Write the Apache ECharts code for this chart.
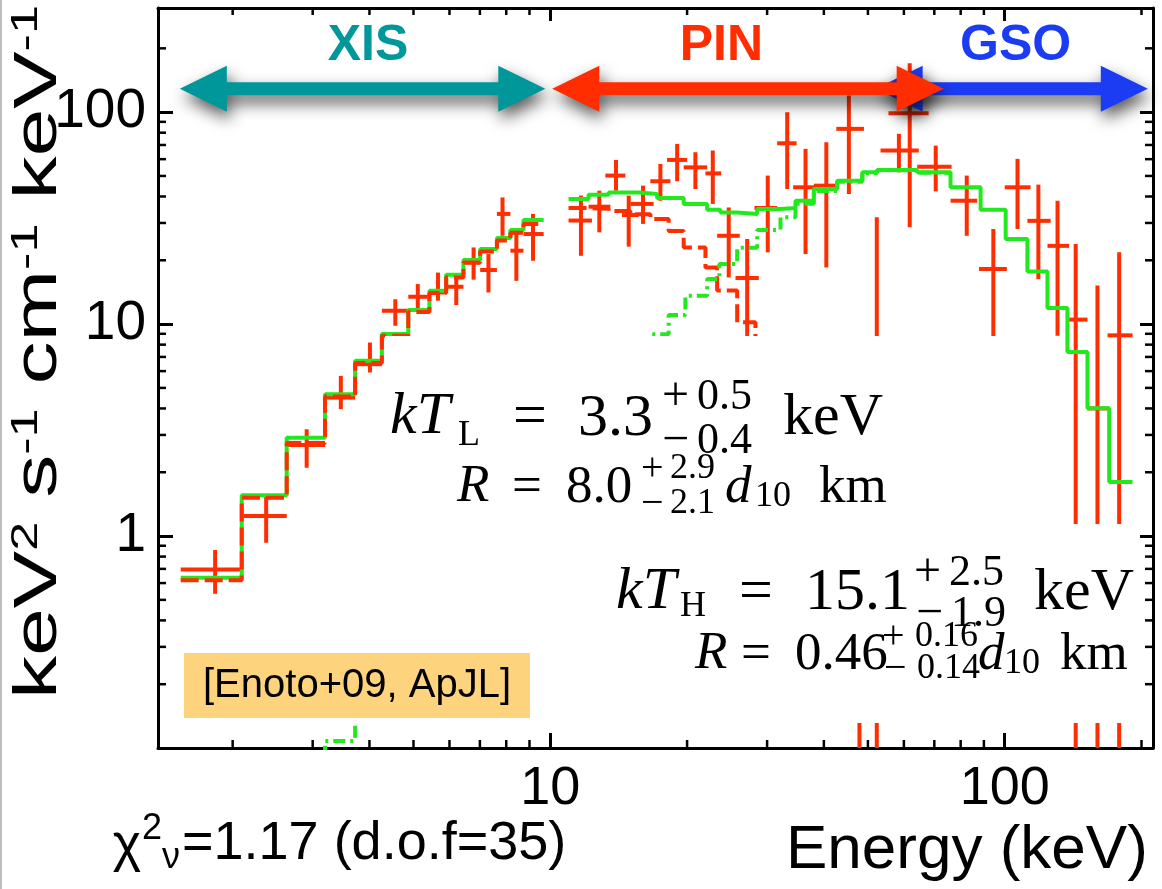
<!DOCTYPE html>
<html>
<head>
<meta charset="utf-8">
<script src="https://cdn.jsdelivr.net/npm/echarts@6/dist/echarts.min.js"></script>
<style>
  html, body { margin: 0; padding: 0; background: #ffffff; }
  #chart { width: 1162px; height: 889px; }
</style>
</head>
<body>
<div id="chart"></div>
<script>
// ---- Axis ranges -------------------------------------------------------
const energyRange = [1.37, 212];          // keV
const fluxRange = [0.1, 310];             // keV^2 s^-1 cm^-1 keV^-1

// ---- XIS spectrum ------------------------------------------------------
const xisEdges = [1.537, 2.094, 2.630, 3.194, 3.720, 4.26, 4.87, 5.42, 5.90, 6.44, 7.01, 7.63, 8.17, 8.73, 9.67];
const xisCentres = [1.83, 2.37, 2.91, 3.46, 4.01, 4.56, 5.11, 5.66, 6.21, 6.78, 7.31, 7.85, 8.42, 9.16];
const xisFlux = [0.696, 1.243, 2.69, 4.5, 6.47, 11.56, 13.46, 14.1, 15.0, 19.5, 18.0, 33.1, 22.2, 26.6];
const xisFluxLow = [0.534, 0.930, 2.10, 3.97, 5.91, 9.82, 11.85, 12.9, 12.3, 16.2, 14.1, 26.1, 16.0, 19.9];
const xisFluxHigh = [0.859, 1.574, 3.19, 5.70, 8.19, 13.1, 15.45, 17.5, 16.9, 23.0, 21.4, 39.6, 26.6, 33.1];
const xisModelTotal = [0.636, 1.556, 2.91, 4.67, 6.71, 8.97, 11.65, 14.37, 17.1, 20.05, 22.6, 25.5, 27.8, 31.0];
const xisModelCool = [0.618, 1.517, 2.75, 4.55, 6.55, 8.80, 11.4, 14.0, 16.6, 19.5, 22.0, 24.8, 27.0, 29.7];
const xisModelHotE = [3.194, 3.194, 3.720, 3.720];
const xisModelHotFlux = [0.09, 0.108, 0.108, 0.15];

// ---- HXD-PIN spectrum --------------------------------------------------
const pinCentres = [11.68, 12.82, 13.95, 14.88, 16.0, 17.47, 19.02, 20.86, 22.78, 24.7, 27.12, 30.1, 33.22, 36.45, 40.5, 45.4, 52.3, 61.8];
const pinLo = [10.97, 12.14, 13.22, 14.38, 15.0, 16.6, 18.07, 19.66, 21.95, 23.29, 25.56, 28.14, 31.57, 34.23, 38.02, 42.6, 49.0, 55.5];
const pinHi = [12.35, 13.56, 14.63, 15.65, 16.88, 18.38, 20.0, 22.14, 23.77, 26.12, 28.76, 31.57, 34.83, 38.35, 42.8, 49.0, 55.5, 68.0];
const pinFlux = [30.8, 35.8, 50.2, 32.7, 36.9, 47.2, 59.5, 54.9, 51.4, 26.1, 16.5, 35.3, 71.3, 44.2, 45.0, 83.4, 5.0, 98.8];
const pinFluxLow = [21.0, 27.1, 42.6, 23.2, 29.7, 38.2, 47.2, 43.4, 36.9, 16.6, 7.0, 21.8, 43.4, 21.4, 18.5, 41.1, 0.05, 28.6];
const pinFluxHigh = [40.4, 42.6, 59.5, 40.4, 45.0, 57.0, 70.8, 64.7, 65.9, 35.5, 25.2, 50.2, 99.9, 67.1, 72.1, 119.8, 31.9, 170];

// ---- HXD-GSO spectrum --------------------------------------------------
const gsoCentres = [47.9, 58.5, 70.5, 82.5, 94.4, 106.7, 118.6, 130.7, 143.3, 160.0, 178.6];
const gsoLo = [45.5, 53.3, 64.2, 76.0, 87.8, 100.0, 112.2, 124.2, 138.6, 152.1, 168.4];
const gsoHi = [50.5, 64.7, 76.4, 87.0, 101.1, 114.0, 126.2, 138.6, 152.1, 169.8, 191.1];
const gsoFlux = [2.5, 65.9, 55.3, 38.2, 18.2, 44.2, 30.7, 23.4, 10.5, 4.0, 8.85];
const gsoFluxLow = [0.05, 52.0, 42.3, 26.1, 8.64, 28.1, 16.3, 8.81, 0.05, 0.05, 0.05];
const gsoFluxHigh = [8.0, 79.0, 69.5, 50.2, 28.1, 60.2, 45.5, 38.2, 23.9, 15.2, 21.8];

// ---- HXD two-blackbody model --------------------------------------------
const hxdEdges = [10.97, 12.14, 13.44, 15.65, 17.18, 19.66, 22.14, 23.68, 25.78, 28.53, 32.11, 34.64, 38.02, 42.8, 48.6, 52.4, 64.2, 76.0, 88.5, 100.5, 112.2, 124.2, 137.4, 152.1, 169.8, 191.1];
const hxdModelTotal = [38.96, 40.8, 41.8, 41.1, 39.4, 36.9, 34.6, 33.6, 33.1, 34.9, 35.3, 38.2, 43.4, 47.5, 52.0, 53.4, 52.0, 44.2, 34.6, 25.2, 17.7, 11.9, 7.38, 4.01, 1.80];
const pinCoolEdges = [10.97, 12.14, 13.44, 15.0, 16.61, 18.22, 19.66, 21.95, 23.29, 25.78, 28.28, 31.57, 35.0];
const pinCoolFlux = [35.3, 35.0, 34.2, 33.0, 31.3, 27.5, 23.0, 18.5, 14.4, 10.2, 6.5, 4.0];
const hxdHotEdges = [15.0, 16.61, 18.22, 19.83, 22.14, 23.55, 25.78, 28.53, 32.11, 34.64, 38.02, 42.8, 48.6, 52.4, 64.2, 76.0];
const hxdHotFlux = [7.2, 8.95, 11.03, 13.6, 16.3, 19.2, 22.9, 27.8, 31.9, 37.0, 42.5, 47.0, 51.6, 53.2, 51.8];

// ---- Instrument bands (drawn back to front) -----------------------------
const bandNames = ['XIS', 'GSO', 'PIN'];
const bandFrom = [1.53, 52.0, 10.1];
const bandTo = [9.75, 206.5, 73.4];
const bandLabelAt = [3.97, 105.7, 23.8];
const bandLevel = 129;

// ---- Minor tick values --------------------------------------------------
const xMinorTicks = [2, 3, 4, 5, 6, 7, 8, 9, 20, 30, 40, 50, 60, 70, 80, 90, 200];
const yMinorTicks = [0.2, 0.3, 0.4, 0.5, 0.6, 0.7, 0.8, 0.9, 2, 3, 4, 5, 6, 7, 8, 9, 20, 30, 40, 50, 60, 70, 80, 90, 200];

// ---- Styling -------------------------------------------------------------
const RED = '#ff2d00';
const GREEN = '#22e81e';
const bandColors = { XIS: '#00979a', PIN: '#ff2d00', GSO: '#1b3cf2' };
const SANS = '"Liberation Sans", Arial, Helvetica, sans-serif';
const SERIF = '"Liberation Serif", "Times New Roman", serif';

const measureCtx = document.createElement('canvas').getContext('2d');
function textWidth(text, size) {
  measureCtx.font = size + 'px ' + SANS;
  return measureCtx.measureText(text).width;
}

function stepPoints(edges, values) {
  const pts = [];
  values.forEach((v, i) => { pts.push([edges[i], v], [edges[i + 1], v]); });
  return pts;
}

function crossData(centres, lo, hi, flux, fLow, fHigh) {
  return centres.map((c, i) => [lo[i], hi[i], c, flux[i], fLow[i], fHigh[i]]);
}

function renderCross(params, api) {
  const l = api.coord([api.value(0), api.value(3)]);
  const r = api.coord([api.value(1), api.value(3)]);
  const t = api.coord([api.value(2), api.value(5)]);
  const b = api.coord([api.value(2), api.value(4)]);
  return {
    type: 'group',
    children: [
      { type: 'line', shape: { x1: l[0], y1: l[1], x2: r[0], y2: r[1] }, style: { stroke: RED, lineWidth: 4 } },
      { type: 'line', shape: { x1: t[0], y1: t[1], x2: b[0], y2: b[1] }, style: { stroke: RED, lineWidth: 4 } }
    ]
  };
}

function crossSeries(name, data) {
  return {
    type: 'custom', name: name, clip: true, z: 3,
    data: data, encode: { x: [0, 1, 2], y: [3, 4, 5] },
    renderItem: renderCross, animation: false, silent: true
  };
}

function stepSeries(name, pts, color, dash, z) {
  return {
    type: 'line', name: name, data: pts, showSymbol: false, symbol: 'none',
    lineStyle: { color: color, width: 4, type: dash || 'solid', cap: 'butt' },
    clip: true, z: z, animation: false, silent: true
  };
}

function renderArrow(params, api) {
  const a = api.coord([api.value(0), api.value(2)]);
  const b = api.coord([api.value(1), api.value(2)]);
  const c = api.coord([api.value(3), api.value(2)]);
  const name = bandNames[params.dataIndex];
  const color = bandColors[name];
  const y = a[1], x1 = a[0], x2 = b[0];
  const hl = 47, hh = 23, sw = 6.5;
  const pts = [[x1, y], [x1 + hl, y - hh], [x1 + hl, y - sw], [x2 - hl, y - sw], [x2 - hl, y - hh], [x2, y],
               [x2 - hl, y + hh], [x2 - hl, y + sw], [x1 + hl, y + sw], [x1 + hl, y + hh]];
  return {
    type: 'group',
    children: [
      { type: 'polygon', shape: { points: pts },
        style: { fill: color, shadowColor: 'rgba(0,0,0,0.65)', shadowBlur: 16, shadowOffsetX: 3, shadowOffsetY: 8 } },
      { type: 'text', x: c[0], y: y - 42,
        style: { text: name, fill: color, font: 'bold 50px ' + SANS, align: 'center', verticalAlign: 'middle' } }
    ]
  };
}

function minorTickData() {
  const d = [];
  xMinorTicks.forEach(v => d.push([v, 1, 0]));
  yMinorTicks.forEach(v => d.push([2, v, 1]));
  return d;
}

function renderMinorTick(params, api) {
  const cs = params.coordSys;
  const p = api.coord([api.value(0), api.value(1)]);
  const st = { stroke: '#000', lineWidth: 2.5 };
  if (api.value(2) === 0) {
    const x = p[0];
    return { type: 'group', children: [
      { type: 'line', shape: { x1: x, y1: cs.y + cs.height, x2: x, y2: cs.y + cs.height - 8 }, style: st },
      { type: 'line', shape: { x1: x, y1: cs.y, x2: x, y2: cs.y + 7 }, style: st }
    ] };
  }
  const y = p[1];
  return { type: 'group', children: [
    { type: 'line', shape: { x1: cs.x, y1: y, x2: cs.x + 8, y2: y }, style: st },
    { type: 'line', shape: { x1: cs.x + cs.width, y1: y, x2: cs.x + cs.width - 8, y2: y }, style: st }
  ] };
}

// ---- Text helpers ---------------------------------------------------------
function txt(text, x, y, size, opts) {
  opts = opts || {};
  const family = opts.sans ? SANS : SERIF;
  return {
    type: 'text', x: x, y: y, z: 120, silent: true,
    rotation: opts.rotation || 0, scaleX: opts.stretch || 1, scaleY: 1,
    style: {
      text: text, fill: '#000',
      font: (opts.italic ? 'italic ' : '') + size + 'px ' + family,
      align: opts.align || 'left', verticalAlign: 'middle'
    }
  };
}

const annotation = [
  // kT_L = 3.3 (+0.5, -0.4) keV
  txt('kT', 390, 417, 60, { italic: true }),
  txt('L', 458, 436, 36),
  txt('=', 513, 418, 60),
  txt('3.3', 578, 419, 60),
  txt('+', 662, 397, 48), txt('0.5', 697, 397, 44),
  txt('\u2212', 662, 441, 48), txt('0.4', 697, 441, 44),
  txt('keV', 783, 418, 60),
  // R = 8.0 (+2.9, -2.1) d10 km
  txt('R', 457, 487, 53, { italic: true }),
  txt('=', 512, 488, 53),
  txt('8.0', 566, 488, 53),
  txt('+', 641, 469, 40), txt('2.9', 670, 469, 36),
  txt('\u2212', 641, 504, 40), txt('2.1', 670, 504, 36),
  txt('d', 725, 488, 53, { italic: true }),
  txt('10', 755, 497, 36),
  txt('km', 819, 488, 53),
  // kT_H = 15.1 (+2.5, -1.9) keV
  txt('kT', 616, 592, 60, { italic: true }),
  txt('H', 680, 607, 36),
  txt('=', 739, 593, 60),
  txt('15.1', 805, 593, 60),
  txt('+', 914, 573, 48), txt('2.5', 949, 573, 44),
  txt('\u2212', 916, 614, 48), txt('1.9', 951, 614, 44),
  txt('keV', 1034, 593, 60),
  // R = 0.46 (+0.16, -0.14) d10 km
  txt('R', 695, 654, 53, { italic: true }),
  txt('=', 741, 655, 53),
  txt('0.46', 795, 655, 53),
  txt('+', 882, 637, 40), txt('0.16', 915, 637, 36),
  txt('\u2212', 884, 669, 40), txt('0.14', 917, 669, 36),
  txt('d', 978, 655, 53, { italic: true }),
  txt('10', 1004, 664, 36),
  txt('km', 1060, 655, 53)
];

// y-axis title, laid out piece by piece from bottom to top and stretched
// along its length to run the full height of the plot
const yTitleParts = [['keV', false], ['2', true], [' s', false], ['-1', true], [' cm', false], ['-1', true], [' keV', false], ['-1', true]];
const yTitle = [];
(function () {
  const bottom = 699, top = 5;
  const sizes = yTitleParts.map(([, sup]) => (sup ? 37 : 61));
  const natural = yTitleParts.reduce((s, [t], i) => s + textWidth(t, sizes[i]), 0);
  const stretch = (bottom - top) / natural;
  let offset = 0;
  yTitleParts.forEach(([t, sup], i) => {
    yTitle.push(txt(t, sup ? 27 : 39, bottom - offset, sizes[i], { sans: true, rotation: Math.PI / 2, stretch: stretch }));
    offset += textWidth(t, sizes[i]) * stretch;
  });
})();

// reduced chi-square, laid out so the '=' starts at a fixed place
const chiTitle = [];
(function () {
  const eqX = 182;
  const wNu = textWidth('\u03bd', 36), wTwo = textWidth('2', 36), wChi = textWidth('\u03c7', 54);
  const xNu = eqX - wNu - 2, xTwo = xNu - wTwo, xChi = xTwo - wChi - 1;
  chiTitle.push(txt('\u03c7', xChi, 846, 54, { sans: true }));
  chiTitle.push(txt('2', xTwo, 829, 36, { sans: true }));
  chiTitle.push(txt('\u03bd', xNu, 858, 36, { sans: true }));
  chiTitle.push(txt('=1.17 (d.o.f=35)', eqX, 844, 54, { sans: true }));
})();

const chart = echarts.init(document.getElementById('chart'), null, { renderer: 'canvas' });

const axisCommon = {
  type: 'log', logBase: 10,
  axisLine: { show: true, onZero: false, lineStyle: { color: '#000', width: 3 } },
  splitLine: { show: false },
  minorTick: { show: false },
  minorSplitLine: { show: false }
};

chart.setOption({
  animation: false,
  backgroundColor: '#ffffff',
  grid: { left: 158, right: 9, top: 8, bottom: 141, containLabel: false },
  xAxis: [
    Object.assign({}, axisCommon, {
      position: 'bottom', min: energyRange[0], max: energyRange[1],
      axisTick: { show: true, inside: true, length: 15, lineStyle: { color: '#000', width: 3 } },
      axisLabel: { show: true, color: '#000', fontSize: 54, fontFamily: SANS, margin: 14,
                   showMinLabel: false, showMaxLabel: false }
    }),
    Object.assign({}, axisCommon, {
      position: 'top', min: energyRange[0], max: energyRange[1],
      axisTick: { show: true, inside: true, length: 13, lineStyle: { color: '#000', width: 3 } },
      axisLabel: { show: false }
    })
  ],
  yAxis: [
    Object.assign({}, axisCommon, {
      position: 'left', min: fluxRange[0], max: fluxRange[1],
      axisTick: { show: true, inside: true, length: 15, lineStyle: { color: '#000', width: 3 } },
      axisLabel: { show: true, color: '#000', fontSize: 55, fontFamily: SANS, margin: 12,
                   showMinLabel: false, showMaxLabel: false }
    }),
    Object.assign({}, axisCommon, {
      position: 'right', min: fluxRange[0], max: fluxRange[1],
      axisTick: { show: true, inside: true, length: 13, lineStyle: { color: '#000', width: 3 } },
      axisLabel: { show: false }
    })
  ],
  series: [
    crossSeries('XIS data', crossData(xisCentres, xisEdges.slice(0, -1), xisEdges.slice(1), xisFlux, xisFluxLow, xisFluxHigh)),
    crossSeries('PIN data', crossData(pinCentres, pinLo, pinHi, pinFlux, pinFluxLow, pinFluxHigh)),
    crossSeries('GSO data', crossData(gsoCentres, gsoLo, gsoHi, gsoFlux, gsoFluxLow, gsoFluxHigh)),
    stepSeries('XIS model', stepPoints(xisEdges, xisModelTotal), GREEN, 'solid', 4),
    stepSeries('HXD model', stepPoints(hxdEdges, hxdModelTotal), GREEN, 'solid', 4),
    stepSeries('XIS cool BB', stepPoints(xisEdges, xisModelCool), RED, [18, 6], 5),
    stepSeries('PIN cool BB', stepPoints(pinCoolEdges, pinCoolFlux), RED, [18, 6], 5),
    stepSeries('XIS hot BB', xisModelHotE.map((e, i) => [e, xisModelHotFlux[i]]), GREEN, [12, 5, 3, 5], 5),
    stepSeries('HXD hot BB', stepPoints(hxdHotEdges, hxdHotFlux), GREEN, [12, 5, 3, 5], 5),
    {
      type: 'custom', name: 'minor ticks', clip: false, z: 6, silent: true, animation: false,
      data: minorTickData(), encode: { x: 0, y: 1 }, renderItem: renderMinorTick
    },
    {
      type: 'custom', name: 'bands', clip: false, z: 20, silent: true, animation: false,
      data: bandNames.map((n, i) => [bandFrom[i], bandTo[i], bandLevel, bandLabelAt[i]]),
      encode: { x: [0, 1, 3], y: 2 }, renderItem: renderArrow
    }
  ],
  graphic: {
    elements: [
      // thin grey page edge
      { type: 'rect', z: 90, silent: true, shape: { x: 0, y: 0, width: 2, height: 889 }, style: { fill: '#bdbdbd' } },
      // white backing behind the fit-result text
      { type: 'rect', z: 100, silent: true, shape: { x: 385, y: 336, width: 675, height: 188 }, style: { fill: '#ffffff' } },
      { type: 'rect', z: 100, silent: true, shape: { x: 300, y: 524, width: 840, height: 199 }, style: { fill: '#ffffff' } },
      // reference tag
      { type: 'rect', z: 110, silent: true, shape: { x: 184, y: 653, width: 346, height: 65 }, style: { fill: '#fdd37d' } },
      { type: 'text', z: 120, silent: true, x: 357, y: 686,
        style: { text: '[Enoto+09, ApJL]', fill: '#000', font: '40px ' + SANS, align: 'center', verticalAlign: 'middle' } },
      // x-axis title
      { type: 'text', z: 120, silent: true, x: 786, y: 851,
        style: { text: 'Energy (keV)', fill: '#000', font: '62px ' + SANS, align: 'left', verticalAlign: 'middle' } }
    ].concat(yTitle, chiTitle, annotation)
  }
});
</script>
</body>
</html>
